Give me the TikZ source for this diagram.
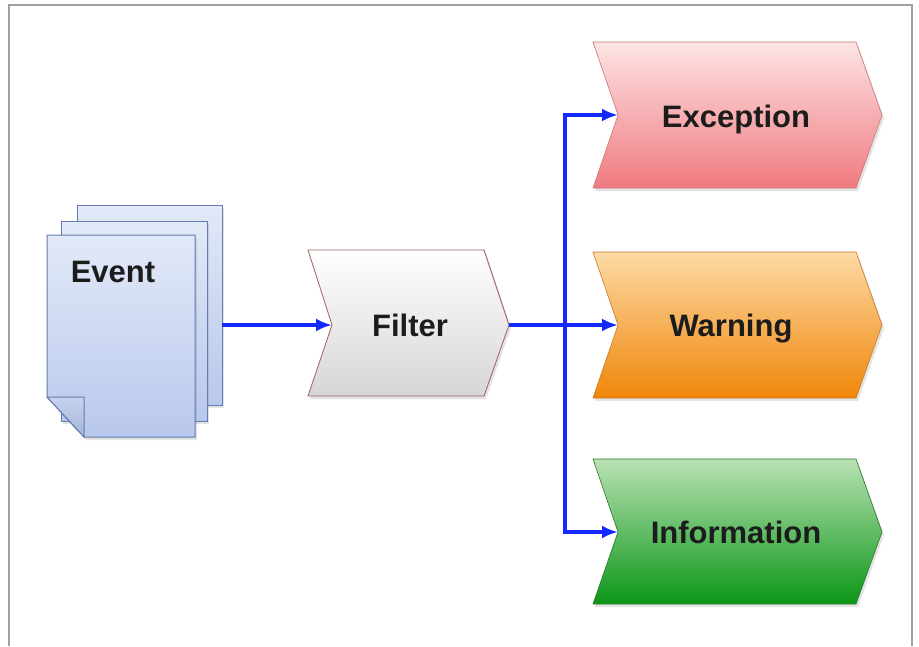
\documentclass[tikz,border=0pt]{standalone}
\usepackage{fontspec}
\setmainfont{Liberation Sans}
\usetikzlibrary{arrows.meta,shadows}
\definecolor{arrblue}{RGB}{20,40,255}
\definecolor{framegray}{RGB}{160,160,160}
\definecolor{pagetop}{RGB}{226,233,248}
\definecolor{pagebot}{RGB}{184,200,236}
\definecolor{pageline}{RGB}{100,124,176}
\definecolor{exctop}{RGB}{253,228,228}
\definecolor{excbot}{RGB}{240,122,128}
\definecolor{exclin}{RGB}{200,120,120}
\definecolor{warntop}{RGB}{253,218,165}
\definecolor{warnbot}{RGB}{240,134,10}
\definecolor{warnlin}{RGB}{200,120,40}
\definecolor{infotop}{RGB}{185,226,180}
\definecolor{infobot}{RGB}{12,150,24}
\definecolor{infolin}{RGB}{40,120,40}
\definecolor{filtlin}{RGB}{160,96,96}
\definecolor{txt}{RGB}{28,28,28}
\tikzset{
  lbl/.style={font=\bfseries\fontsize{31}{34}\selectfont, text=txt, inner sep=0pt, text depth=0pt},
  pagebox/.style={top color=pagetop, bottom color=pagebot, draw=pageline, line width=1pt},
  shd/.style={drop shadow={opacity=0.22, shadow xshift=2pt, shadow yshift=-3pt}},
  conn/.style={draw=arrblue, line width=3.5pt},
  arr/.style={conn, -{Latex[length=16pt,width=13pt]}},
}
\begin{document}
\begin{tikzpicture}[x=1pt,y=-1pt]
\useasboundingbox (0,0) rectangle (919,646);
\fill[white] (0,0) rectangle (919,646);
% frame
\draw[framegray, line width=2pt] (9,646) -- (9,5) -- (912,5) -- (912,646);

% Event pages
\path[pagebox, shd] (77,205) rectangle (222,405);
\path[pagebox, shd] (61,221) rectangle (207,421);
\path[pagebox, shd] (47,235) -- (195,235) -- (195,437) -- (84,437) -- (47,397) -- cycle;
\path[draw=pageline, line width=1pt, top color=pagebot!80!white, bottom color=pagebot!90!black] (47,397) -- (84,397) -- (84,437) -- cycle;
\node[lbl] (event) at (113,272) {Event};
\coordinate (eventout) at (222,325);

% Filter
\path[shd, top color=white, bottom color=black!16, draw=filtlin, line width=0.8pt]
  (308,250) -- (484,250) -- (509,325) -- (484,396) -- (308,396) -- (332,325) -- cycle;
\node[lbl] (filter) at (410,325) {Filter};
\coordinate (filterin) at (332,325);
\coordinate (filterout) at (509,325);

% Exception
\path[shd, top color=exctop, bottom color=excbot, draw=exclin, line width=0.6pt]
  (593,42) -- (856,42) -- (882,115) -- (856,188) -- (593,188) -- (618,115) -- cycle;
\node[lbl] (exc) at (736,116) {Exception};
\coordinate (excin) at (618,115);

% Warning
\path[shd, top color=warntop, bottom color=warnbot, draw=warnlin, line width=0.6pt]
  (593,252) -- (856,252) -- (882,325) -- (856,398) -- (593,398) -- (618,325) -- cycle;
\node[lbl] (warn) at (731,325) {Warning};
\coordinate (warnin) at (618,325);

% Information
\path[shd, top color=infotop, bottom color=infobot, draw=infolin, line width=0.6pt]
  (593,459) -- (856,459) -- (882,532) -- (856,604) -- (593,604) -- (618,532) -- cycle;
\node[lbl] (info) at (736,532) {Information};
\coordinate (infoin) at (618,532);

% connectors
\coordinate (branch) at (565,325);
\draw[arr] (eventout) -- (filterin);
\draw[conn] (filterout) -- (branch);
\draw[arr] (branch) -- (warnin);
\draw[arr] (branch) |- (excin);
\draw[arr] (branch) |- (infoin);
\end{tikzpicture}
\end{document}
